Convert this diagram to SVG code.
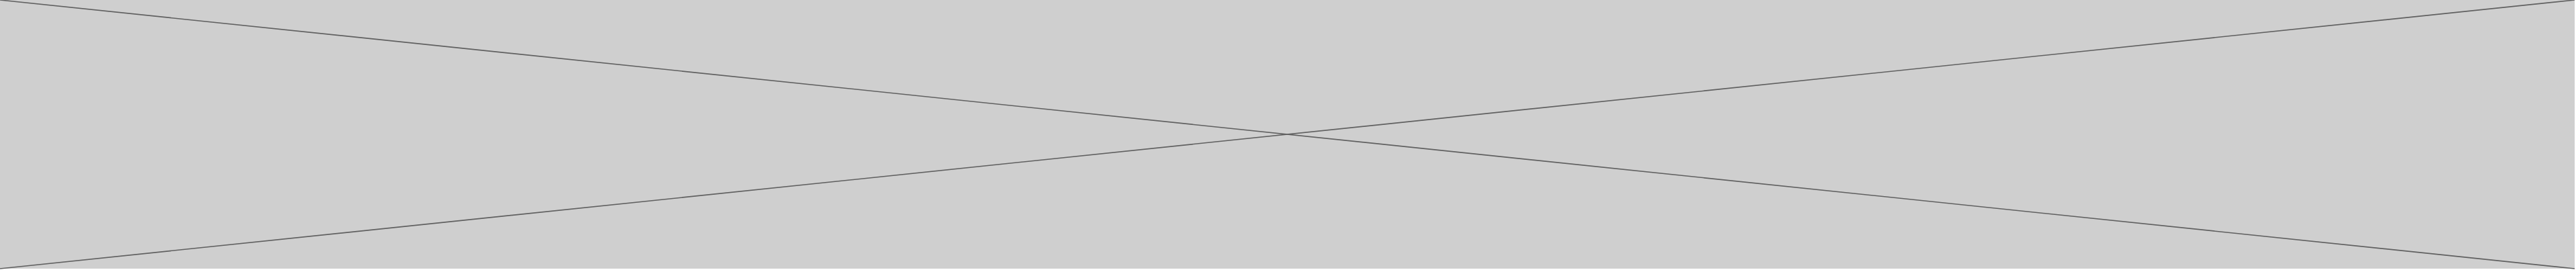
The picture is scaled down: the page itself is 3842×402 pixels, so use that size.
<svg xmlns="http://www.w3.org/2000/svg" width="3842" height="402" viewBox="0 0 3842 402">
<style>
.bg{fill:#cfcfcf;stroke:none}
.ln{stroke:#606060;stroke-width:1.6;fill:none}
</style>
<rect width="3842" height="402" fill="#ffffff"/>
<g id="placeholder">
<rect class="bg" x="0" y="0" width="3840" height="400"/>
</g>
<g id="connectors">
<line class="ln" x1="0" y1="0" x2="3840" y2="400"/>
<line class="ln" x1="0" y1="400" x2="3840" y2="0"/>
</g>
</svg>
